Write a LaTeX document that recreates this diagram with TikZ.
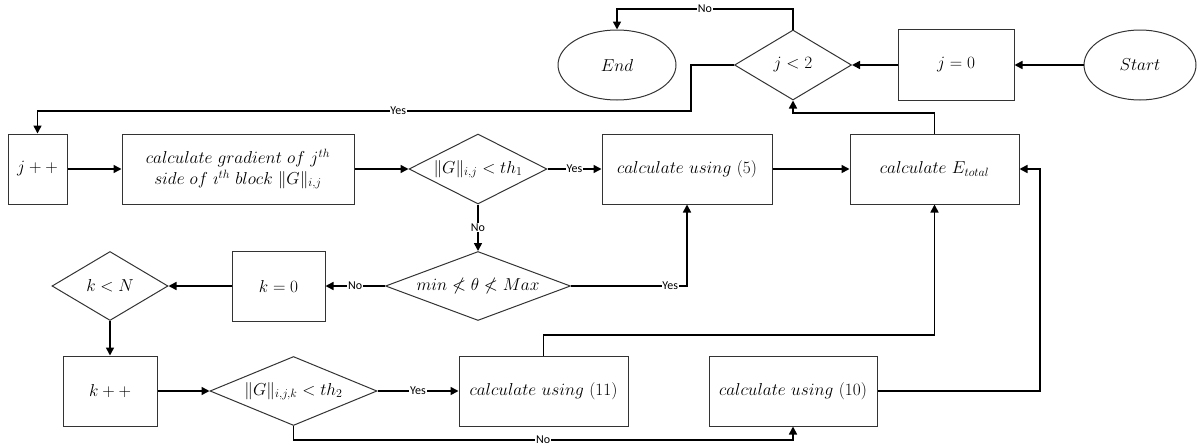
\documentclass[tikz,border=0pt]{standalone}
\usepackage{amsmath,amssymb}
\usepackage{fontspec}
\newfontfamily\lblfont{Carlito}
\usetikzlibrary{shapes.geometric,arrows.meta}
\tikzset{
  shp/.style={draw=black!80, line width=1pt, inner sep=0pt, font=\fontsize{18}{23}\selectfont},
  box/.style={shp, rectangle},
  dia/.style={shp, diamond},
  ell/.style={shp, ellipse},
  every label/.style={font=\fontsize{18}{23}\selectfont, inner sep=0pt},
  con/.style={line width=1.6pt, -{Triangle[length=8pt,width=8pt]}},
  lbl/.style={fill=white, inner sep=0.8pt, font=\lblfont\fontsize{12}{13}\selectfont},
}
\begin{document}
\begin{tikzpicture}[x=1pt,y=-1pt]
\useasboundingbox (0,0) rectangle (1197,447);
% top row
\node[ell, minimum width=118pt, minimum height=70pt] (endE) at (617,65) {$End$};
\node[dia, minimum width=117pt, minimum height=70pt, label=center:{$j<2$}] (j2) at (793,65) {};
\node[box, minimum width=116pt, minimum height=71pt] (j0) at (956,65) {$j=0$};
\node[ell, minimum width=112pt, minimum height=70pt] (start) at (1140,65) {$Start$};
% second row
\node[box, minimum width=59pt, minimum height=70pt] (jpp) at (37.5,169) {$j++$};
\node[box, minimum width=232pt, minimum height=70pt, align=center, font=\fontsize{17}{22}\selectfont] (grad) at (238,169)
  {$calculate\ gradient\ of\ j^{th}$\\[-1pt] $side\ of\ \imath^{th}\ block\ \|G\|_{i,j}$};
\node[dia, minimum width=138pt, minimum height=70pt, label=center:{$\|G\|_{i,j}<th_1$}] (g1) at (478,169) {};
\node[box, minimum width=170pt, minimum height=70pt] (c5) at (687,169) {$calculate\ using\ (5)$};
\node[box, minimum width=169pt, minimum height=70pt] (Et) at (934.5,169) {$calculate\ E_{total}$};
% third row
\node[dia, minimum width=116pt, minimum height=69pt, label=center:{$k<N$}] (kN) at (110,286) {};
\node[box, minimum width=93pt, minimum height=70pt] (k0) at (278.5,286) {$k=0$};
\node[dia, minimum width=185pt, minimum height=69pt, label=center:{$min\nless\theta\nless Max$}] (m) at (478,286) {};
% fourth row
\node[box, minimum width=94pt, minimum height=70pt] (kpp) at (110,391) {$k++$};
\node[dia, minimum width=167pt, minimum height=69pt, label=center:{$\|G\|_{i,j,k}<th_2$}] (g2) at (293.5,391) {};
\node[box, minimum width=169pt, minimum height=70pt] (c11) at (543.5,391) {$calculate\ using\ (11)$};
\node[box, minimum width=168pt, minimum height=70pt] (c10) at (793,391) {$calculate\ using\ (10)$};
% waypoints
\coordinate (a1) at (793,9);
\coordinate (a2) at (617,9);
\coordinate (b1) at (691,65);
\coordinate (b2) at (691,111);
\coordinate (b3) at (37.5,111);
\coordinate (c1) at (687,286);
\coordinate (d1) at (293.5,440);
\coordinate (d2) at (793,440);
\coordinate (e1) at (543.5,335);
\coordinate (e2) at (934.5,335);
\coordinate (f1) at (934.5,113);
\coordinate (f2) at (793,113);
\coordinate (h1) at (1040,391);
\coordinate (h2) at (1040,169);
% connectors
\draw[con] (start.west) -- (j0.east);
\draw[con] (j0.west) -- (j2.east);
\draw[con] (j2.north) -- (a1) -- node[lbl]{No} (a2) -- (endE.north);
\draw[con] (j2.west) -- (b1) -- (b2) -- node[lbl, pos=0.448]{Yes} (b3) -- (jpp.north);
\draw[con] (jpp.east) -- (grad.west);
\draw[con] (grad.east) -- (g1.west);
\draw[con] (g1.east) -- node[lbl]{Yes} (c5.west);
\draw[con] (g1.south) -- node[lbl]{No} (m.north);
\draw[con] (m.west) -- node[lbl]{No} (k0.east);
\draw[con] (m.east) -- node[lbl, pos=0.855]{Yes} (c1) -- (c5.south);
\draw[con] (k0.west) -- (kN.east);
\draw[con] (kN.south) -- (kpp.north);
\draw[con] (kpp.east) -- (g2.west);
\draw[con] (g2.east) -- node[lbl]{Yes} (c11.west);
\draw[con] (g2.south) -- (d1) -- node[lbl]{No} (d2) -- (c10.south);
\draw[con] (c11.north) -- (e1) -- (e2) -- (Et.south);
\draw[con] (c5.east) -- (Et.west);
\draw[con] (Et.north) -- (f1) -- (f2) -- (j2.south);
\draw[con] (c10.east) -- (h1) -- (h2) -- (Et.east);
\end{tikzpicture}
\end{document}
